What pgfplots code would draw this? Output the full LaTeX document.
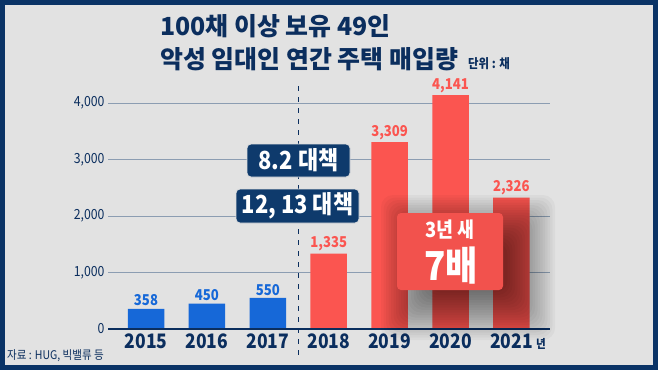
\documentclass[border=0pt]{standalone}
\usepackage{fontspec}
\setmainfont{Noto Sans CJK KR}
\newfontfamily\krc{Noto Sans CJK KR}[FakeStretch=0.88]
\usepackage{pgfplots}
\pgfplotsset{compat=1.18}
\definecolor{navy}{HTML}{0B2E5E}
\definecolor{framec}{HTML}{0A3366}
\definecolor{bg}{HTML}{E2E2E2}
\definecolor{barblue}{HTML}{1668D8}
\definecolor{barred}{HTML}{FB5550}
\definecolor{gridc}{HTML}{8C9DB2}
\definecolor{boxnavy}{HTML}{0E3A6C}
\definecolor{boxred}{HTML}{F2524D}
\begin{document}
\begin{tikzpicture}[x=1bp,y=1bp]
\fill[framec] (0,0) rectangle (658,370);
\fill[bg] (5,5) rectangle (653,365);
\begin{axis}[
  at={(108bp,41bp)}, anchor=south west, scale only axis,
  width=442bp, height=237.1bp,
  xmin=-0.624, xmax=6.634, ymin=0, ymax=4200,
  clip=false,
  axis line style={draw=none},
  ymajorgrids, grid style={gridc, line width=0.8bp},
  ytick={0,1000,2000,3000,4000},
  major tick length=0pt,
  xtick={0,...,6},
  xticklabels={2015,2016,2017,2018,2019,2020,{2021\rlap{\,\fontsize{12}{12}\selectfont 년}}},
  /pgf/number format/.cd, 1000 sep={,}, assume math mode=true,
  /pgfplots/.cd,
  yticklabel style={font=\krc\fontsize{14}{14}\selectfont, text=navy},
  xticklabel style={font=\krc\bfseries\fontsize{20}{20}\selectfont, text=navy, yshift=-1.5bp},
]
\addplot[ybar, bar width=36.5bp, bar shift=0pt, fill=barblue, draw=none,
  nodes near coords, nodes near coords style={text=barblue, font=\krc\bfseries\fontsize{15}{15}\selectfont, inner sep=2.5bp}]
  coordinates {(0,358) (1,450) (2,550)};
\addplot[ybar, bar width=36.5bp, bar shift=0pt, fill=barred, draw=none,
  nodes near coords, nodes near coords style={text=barred, font=\krc\bfseries\fontsize{15}{15}\selectfont, inner sep=2.5bp}]
  coordinates {(3,1335) (4,3309) (5,4141) (6,2326)};
\draw[navy, line width=2bp] (rel axis cs:0,0) -- (rel axis cs:1,0);
\draw[navy, line width=1.3bp, dash pattern=on 5bp off 6bp] (axis cs:2.5,-460) -- (axis cs:2.5,4411);
\end{axis}
% soft (blurred) shadow of the red box
\foreach \i in {1,...,20} {
  \pgfmathsetmacro\r{-16+2.5*\i}
  \fill[black, opacity=0.03, rounded corners=12bp] (415-\r, 64-\r) rectangle (521+\r, 141+\r);
}
\node[fill=boxred, rounded corners=4bp, minimum width=106bp, minimum height=77bp, inner sep=0pt] at (450,118.5) {};
\node[text=white, font=\krc\bfseries\fontsize{21}{21}\selectfont, inner sep=0pt] at (450,140) {3년 새};
\node[text=white, font=\krc\bfseries\fontsize{40}{40}\selectfont, inner sep=0pt] at (451,104) {7배};
% navy boxes
\node[fill=boxnavy, draw=white!75!gray, line width=0.8bp, rounded corners=4bp, minimum width=103bp, minimum height=33bp, inner sep=0pt, text=white, font=\krc\bfseries\fontsize{25}{25}\selectfont] at (298.5,209.5) {8.2 대책};
\node[fill=boxnavy, draw=white!75!gray, line width=0.8bp, rounded corners=4bp, minimum width=123bp, minimum height=34bp, inner sep=0pt, text=white, font=\krc\bfseries\fontsize{25}{25}\selectfont] at (297.5,164) {12, 13 대책};
% titles
\node[anchor=west, text=navy, inner sep=0pt, font=\bfseries\fontsize{25}{25}\selectfont] at (160,344) {100채 이상 보유 49인};
\node[anchor=base west, text=navy, inner sep=0pt, font=\bfseries\fontsize{25}{25}\selectfont] at (160,302) {악성 임대인 연간 주택 매입량};
\node[anchor=base west, text=navy, inner sep=0pt, font=\krc\bfseries\fontsize{13}{13}\selectfont] at (468,302) {단위 : 채};
\node[anchor=west, text=navy, inner sep=0pt, font=\krc\fontsize{12}{12}\selectfont] at (7,14) {자료 : HUG, 빅밸류 등};
\end{tikzpicture}
\end{document}
